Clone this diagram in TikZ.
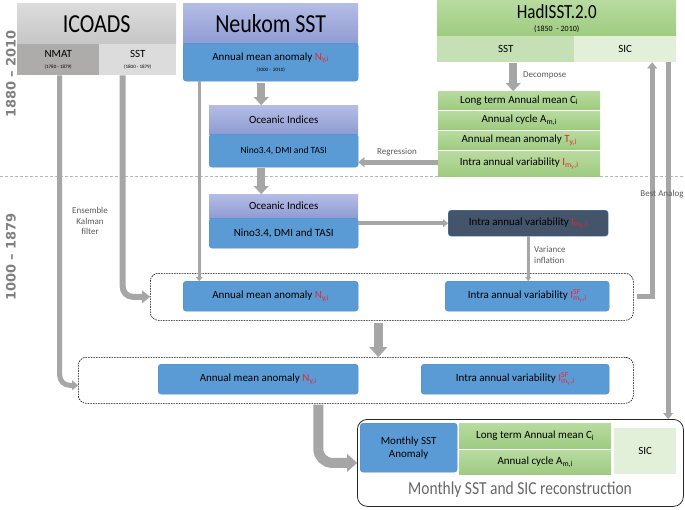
\documentclass[tikz,border=0pt]{standalone}
\usepackage{fontspec}
\setmainfont{Carlito}
\newfontfamily\yearfont{DejaVu Sans}
\usetikzlibrary{arrows.meta}
\definecolor{cblue}{HTML}{5B9BD5}
\definecolor{cblueline}{HTML}{4F8BC4}
\definecolor{lavtop}{HTML}{B4BDE6}
\definecolor{lavbot}{HTML}{8F9BD2}
\definecolor{grytop}{HTML}{DCDCDC}
\definecolor{grybot}{HTML}{C6C6C6}
\definecolor{nmatc}{HTML}{AEABAB}
\definecolor{isstc}{HTML}{DCDCDC}
\definecolor{grntop}{HTML}{B8DBA0}
\definecolor{grnbot}{HTML}{9ECB80}
\definecolor{cgreen}{HTML}{A9D18E}
\definecolor{lgreen}{HTML}{C5E0B4}
\definecolor{pgreen}{HTML}{E2F0D9}
\definecolor{cdark}{HTML}{44546A}
\definecolor{arr}{HTML}{A6A6A6}
\definecolor{lbl}{HTML}{595959}
\definecolor{yr}{HTML}{808080}
\definecolor{cred}{HTML}{E8262B}
\newcommand\rd[1]{\textcolor{cred}{#1}}
\newcommand\Imy{\rd{I\textsubscript{m\textsubscript{y},i}}}
\newcommand\Isf{\rd{I\makebox[0pt][l]{\textsuperscript{SF}}\textsubscript{m\textsubscript{y},i}}}
\newcommand\tall[1]{\scalebox{1}[1.18]{#1}}
\begin{document}
\begin{tikzpicture}[x=1pt,y=-1pt,
  cellbox/.style={anchor=north west, inner sep=0pt, align=center, font=\fontsize{11}{13}\selectfont},
  hdrbox/.style={cellbox, draw=none},
  bluebox/.style={cellbox, fill=cblue, draw=cblueline, line width=0.4pt, rounded corners=3pt},
  lavbox/.style={cellbox, top color=lavtop, bottom color=lavbot},
  grnbox/.style={cellbox, top color=grntop, bottom color=grnbot},
  dashbox/.style={anchor=north west, inner sep=0pt, draw=black, line width=0.6pt, dash pattern=on 1.6pt off 1pt, rounded corners=8pt},
  lbltext/.style={text=lbl, inner sep=0pt, align=center, font=\fontsize{9}{10.5}\selectfont},
  yrtext/.style={rotate=90, text=yr, inner sep=0pt, font=\yearfont\bfseries\fontsize{13}{14}\selectfont},
  arw/.style n args={3}{draw=arr, line width=#1, -{Triangle[width=#2,length=#3,line width=0.1pt]}}
]
\useasboundingbox (0,0) rectangle (685,509);

% period separator
\draw[draw=arr!80, line width=0.6pt, dash pattern=on 3pt off 2pt] (0,176) -- (685,176);
\node[yrtext] (yr1) at (11,74) {1880 – 2010};
\node[yrtext] (yr2) at (11,257) {1000 – 1879};

% ICOADS
\node[hdrbox, top color=grytop, bottom color=grybot, minimum width=159, minimum height=41] (icoads) at (17,3) {\fontsize{22}{24}\selectfont\tall{ICOADS}};
\node[cellbox, fill=nmatc, minimum width=82, minimum height=31] (nmat) at (17,44) {NMAT\\[-2pt]{\fontsize{5}{6}\selectfont (1780 - 1879)}};
\node[cellbox, fill=isstc, minimum width=77, minimum height=31] (isst) at (99,44) {SST\\[-2pt]{\fontsize{5}{6}\selectfont (1800 - 1879)}};

% Neukom
\node[hdrbox, top color=lavtop, bottom color=lavbot, minimum width=175, minimum height=41] (neukom) at (183,3) {\fontsize{22}{24}\selectfont\tall{Neukom SST}};
\node[bluebox, minimum width=175, minimum height=38] (nkann) at (183,43) {Annual mean anomaly \rd{N\textsubscript{y,i}}\\[-2pt]{\fontsize{5}{6}\selectfont (1000 -\ \ 2010)}};

\node[lavbox, minimum width=149, minimum height=29] (oc1h) at (209,105) {Oceanic Indices};
\node[bluebox, minimum width=149, minimum height=33, font=\fontsize{9.5}{11}\selectfont] (oc1b) at (209,134) {Nino3.4, DMI and TASI};
\node[lavbox, minimum width=149, minimum height=24] (oc2h) at (209,194) {Oceanic Indices};
\node[bluebox, minimum width=149, minimum height=30] (oc2b) at (209,218) {Nino3.4, DMI and TASI};

% HadISST
\node[hdrbox, top color=grntop, bottom color=grnbot, minimum width=239, minimum height=36] (had) at (437,0) {\fontsize{17}{18}\selectfont\tall{HadISST.2.0}\\[0pt]{\fontsize{8}{9}\selectfont (1850\ \ - 2010)}};
\node[cellbox, fill=lgreen, minimum width=137, minimum height=26] (hsst) at (437,36) {SST};
\node[cellbox, fill=pgreen, minimum width=102, minimum height=26] (hsic) at (574,36) {SIC};

\node[grnbox, minimum width=162, minimum height=18] (d1) at (438,91) {Long term Annual mean C\textsubscript{i}};
\node[grnbox, minimum width=162, minimum height=18] (d2) at (438,111) {Annual cycle A\textsubscript{m,i}};
\node[grnbox, minimum width=162, minimum height=18] (d3) at (438,131) {Annual mean anomaly \rd{T\textsubscript{y,i}}};
\node[grnbox, minimum width=162, minimum height=25] (d4) at (438,151) {Intra annual variability \Imy};

\node[cellbox, fill=cdark, draw=cblueline, line width=0.4pt, rounded corners=3pt, minimum width=160, minimum height=26] (dark) at (448,210) {Intra annual variability \Imy};

% dashed group 1
\node[dashbox, minimum width=483, minimum height=47] (db1) at (150,273) {};
\node[bluebox, minimum width=175, minimum height=30] (a1) at (183,281) {Annual mean anomaly \rd{N\textsubscript{y,i}}};
\node[bluebox, minimum width=164, minimum height=30] (i1) at (445,281) {Intra annual variability \Isf};

% dashed group 2
\node[dashbox, minimum width=555, minimum height=46] (db2) at (78,357) {};
\node[bluebox, minimum width=200, minimum height=30] (a2) at (158,364) {Annual mean anomaly \rd{N\textsubscript{y,i}}};
\node[bluebox, minimum width=188, minimum height=30] (i2) at (421,364) {Intra annual variability \Isf};

% final reconstruction
\node[anchor=north west, inner sep=0pt, draw=black!85, line width=0.8pt, rounded corners=10pt, minimum width=326, minimum height=87] (final) at (357,419) {};
\node[bluebox, minimum width=97, minimum height=49] (fblue) at (360,423) {Monthly SST\\Anomaly};
\node[grnbox, minimum width=152, minimum height=25] (fc) at (459,423) {Long term Annual mean C\textsubscript{i}};
\node[grnbox, minimum width=152, minimum height=24] (fa) at (459,450) {Annual cycle A\textsubscript{m,i}};
\node[cellbox, fill=pgreen, minimum width=62, minimum height=46] (fsic) at (614,428) {SIC};
\node[inner sep=0pt, text=black!60, font=\fontsize{15.5}{17}\selectfont] (ftitle) at (520,490) {\tall{Monthly SST and SIC reconstruction}};

% connectors
\coordinate (pA) at ([xshift=-9.5pt]nkann.south);
\draw[arw={8pt}{15pt}{8pt}, shorten <=2pt] (pA) -- (pA |- oc1h.north);
\coordinate (pB) at ([xshift=-22.5pt]oc1b.south);
\draw[arw={8pt}{15pt}{8pt}, shorten <=1pt] (pB) -- (pB |- oc2h.north);
\coordinate (pC) at ([xshift=-71.5pt]nkann.south);
\draw[arw={3pt}{7pt}{4pt}] (pC) -- (pC |- a1.north);
\coordinate (pD) at ([xshift=7.5pt]hsst.south);
\draw[arw={8pt}{15pt}{8pt}, shorten <=1pt] (pD) -- (pD |- d1.north);
\coordinate (pE) at ([yshift=1.5pt]d4.west);
\draw[arw={5pt}{10pt}{6pt}] (pE) -- (pE -| oc1b.east);
\draw[arw={4pt}{8pt}{5pt}] (dark.west -| oc2b.east) -- (dark.west);
\draw[arw={3pt}{6pt}{4pt}] (dark.south) -- (dark.south |- i1.north);
\coordinate (pH) at ([xshift=-15pt]isst.south);
\draw[arw={6pt}{13pt}{8pt}, rounded corners=10pt] (pH) |- (db1.west);
\coordinate (pI) at ([xshift=1.5pt]nmat.south);
\coordinate (qI) at ([yshift=-5pt]db2.west);
\draw[arw={5pt}{10pt}{6pt}, rounded corners=10pt] (pI) |- (qI);
\coordinate (pJ) at ([xshift=-13.5pt]db1.south);
\draw[arw={9pt}{18pt}{10pt}, shorten <=2pt] (pJ) -- (pJ |- db2.north);
\coordinate (pK) at ([xshift=-37.5pt]db2.south);
\draw[arw={10pt}{18pt}{10pt}, rounded corners=14pt, shorten <=1pt] (pK) |- (final.west);
\coordinate (pL) at ([xshift=27pt]hsic.south);
\draw[arw={5pt}{10pt}{6pt}, shorten <=3pt] (db1.east) -| (pL);
\coordinate (pM) at ([xshift=43pt]hsic.south);
\draw[arw={5pt}{10pt}{6pt}] (pM) -- (pM |- final.north);

% labels (on top of connectors)
\node[lbltext, anchor=west] (ldec) at (523,75) {Decompose};
\node[lbltext] (lreg) at (397,152) {Regression};
\node[lbltext, anchor=west, align=left] (lvar) at (534,255) {Variance\\inflation};
\node[lbltext] (lbest) at (662,194) {Best Analog};
\node[lbltext] (lenkf) at (90,221) {Ensemble\\Kalman\\filter};
\end{tikzpicture}
\end{document}
